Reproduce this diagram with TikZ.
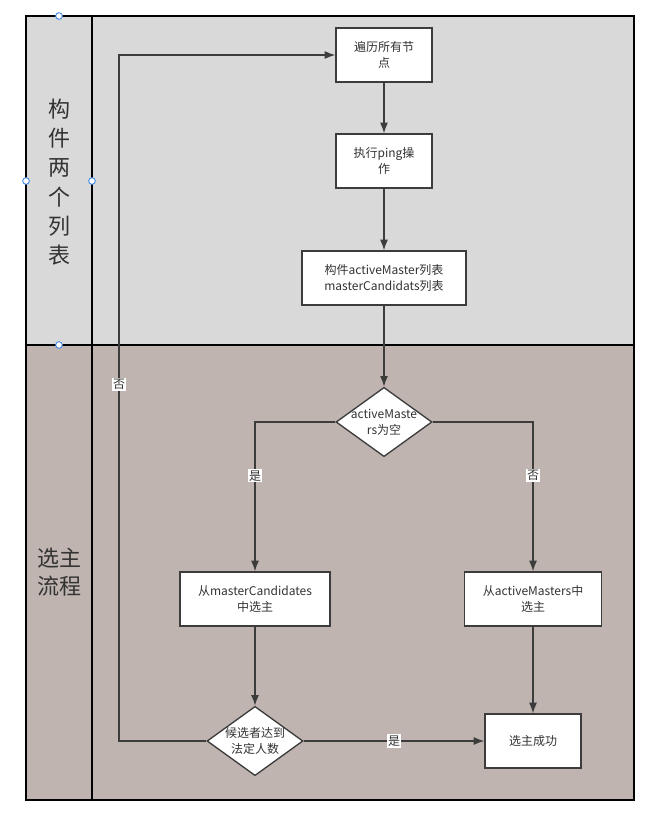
\documentclass[tikz,border=0pt]{standalone}
\usepackage{fontspec}
\setmainfont{Noto Sans CJK SC}
\usepackage{xcolor}
\usetikzlibrary{shapes.geometric,arrows.meta}
\definecolor{lanetop}{HTML}{D9D9D9}
\definecolor{lanebot}{HTML}{BFB4B0}
\definecolor{stroke}{HTML}{3C3C3C}
\definecolor{inktext}{HTML}{333333}
\definecolor{handle}{HTML}{2F80ED}

\begin{document}
\begin{tikzpicture}[x=0.75pt,y=-0.75pt,font=\fontsize{9}{12}\selectfont,text=inktext,
box/.style={draw=stroke,line width=1pt,fill=white,align=center,minimum width=72pt,minimum height=40.5pt,inner sep=2pt},
dia/.style={diamond,draw=stroke,line width=1pt,fill=white,minimum width=72pt,minimum height=52pt,inner sep=0pt},
arr/.style={-{Latex[length=8pt,width=6pt]},line width=1pt,draw=stroke},
lbl/.style={fill=white,inner sep=1pt},
lane/.style={align=center,font=\fontsize{16.5}{22}\selectfont},
hdl/.style={circle,draw=handle,fill=white,line width=0.6pt,minimum size=5pt,inner sep=0pt}]
\useasboundingbox (0,0) rectangle (668,825);
% swimlanes
\fill[lanetop] (26,16) rectangle (634,345);
\fill[lanebot] (26,345) rectangle (634,800);
\draw[stroke,line width=1pt] (26,16) rectangle (634,800);
\draw[stroke,line width=1pt] (26,345) -- (634,345);
\draw[stroke,line width=1pt] (92,16) -- (92,800);
\node[lane] (lanea) at (59,182) {构\\件\\两\\个\\列\\表};
\node[lane,font=\fontsize{16.5}{21}\selectfont] (laneb) at (59,572) {选主\\流程};
% flow
\node[box] (visit) at (384,55) {遍历所有节\\点};
\node[box] (ping) at (384,161) {执行ping操\\作};
\node[box,minimum width=123pt] (lists) at (384,278) {构件activeMaster列表\\masterCandidats列表};
\node[dia,label={[align=center,font=\fontsize{9}{12}\selectfont]center:activeMaste\\rs为空}] (empty) at (384,422) {};
\node[box,minimum width=112.5pt] (fromcand) at (255,599) {从masterCandidates\\中选主};
\node[box,minimum width=103pt] (fromact) at (533,599) {从activeMasters中\\选主};
\node[dia,label={[align=center,font=\fontsize{9}{12}\selectfont]center:候选者达到\\法定人数}] (quorum) at (255,741) {};
\node[box] (done) at (533,741) {选主成功};
\coordinate (back) at (119,741);
\draw[arr] (visit)--(ping);\draw[arr] (ping)--(lists);\draw[arr] (lists)--(empty);
\draw[arr] (empty.west) -| node[lbl,pos=0.68] {是} (fromcand.north);
\draw[arr] (empty.east) -| node[lbl,pos=0.68] {否} (fromact.north);
\draw[arr] (fromcand)--(quorum);\draw[arr] (fromact)--(done);
\draw[arr] (quorum.east) -- node[lbl] {是} (done.west);
\draw[arr] (quorum.west) -- (back) |- node[lbl,pos=0.26] {否} (visit.west);
% selection handles
\foreach \p in {(59,16),(26,181),(92,181),(59,345)} \node[hdl] at \p {};
\end{tikzpicture}
\end{document}
